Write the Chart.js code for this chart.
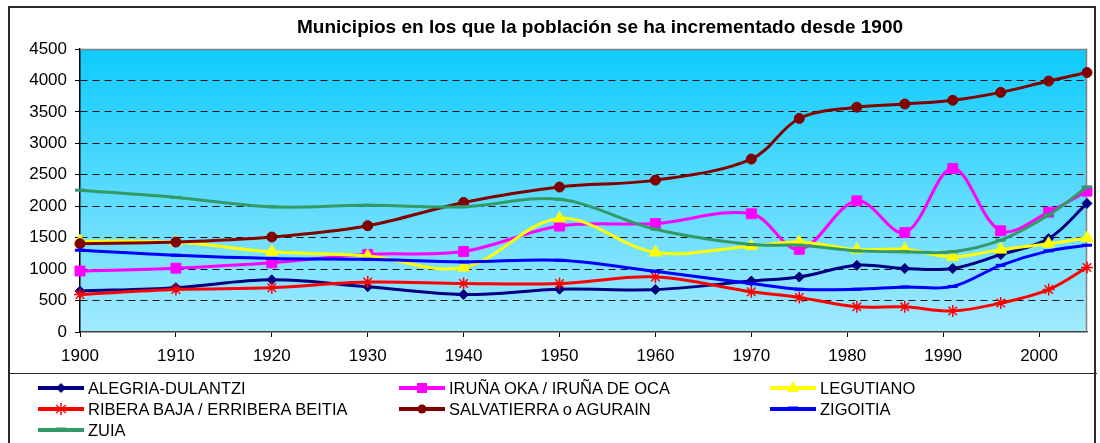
<!DOCTYPE html>
<html lang="es">
<head>
  <meta charset="UTF-8" />
  <title>Municipios</title>
  <script src="https://cdn.jsdelivr.net/npm/chart.js"></script>
  <style>
    body { margin: 0; background: #fff; font-family: "Liberation Sans", Arial, sans-serif; }
    #wrap { position: relative; width: 1100px; height: 443px; overflow: hidden; }
    #frame { position: absolute; left: 8px; top: 6px; width: 1088px; height: 460px; border: 2px solid #2a2a2a; box-sizing: border-box; pointer-events: none; }
    #sep { position: absolute; left: 8px; top: 373px; width: 1089px; height: 0; border-top: 1.5px solid #2a2a2a; }
    #title { position: absolute; left: 0; width: 1200px; top: 16px; text-align: center; font-weight: bold; font-size: 19px; color: #000; white-space: nowrap; }
    #chart { position: absolute; left: 0; top: 0; }
    .item { position: absolute; height: 20px; display: flex; align-items: center; font-size: 16.5px; color: #000; white-space: nowrap; }
    .item svg { margin-right: 4px; }
  </style>
</head>
<body>
  <div id="wrap">
    <canvas id="chart" width="1100" height="372"></canvas>
    <div id="title">Municipios en los que la población se ha incrementado desde 1900</div>
    <div id="frame"></div>
    <div id="sep"></div>
    <div id="legend"></div>
  </div>

  <script>
    const years = [1900, 1910, 1920, 1930, 1940, 1950, 1960, 1970, 1975, 1981, 1986, 1991, 1996, 2001, 2005];
    const yearTicks = [1900, 1910, 1920, 1930, 1940, 1950, 1960, 1970, 1980, 1990, 2000];

    const alegria     = [650, 705, 830, 720, 595, 680, 675, 810, 875, 1060, 1010, 1010, 1230, 1485, 2045];
    const iruna       = [970, 1015, 1100, 1235, 1280, 1685, 1725, 1880, 1315, 2085, 1580, 2600, 1610, 1905, 2240];
    const legutiano   = [1445, 1430, 1275, 1210, 1025, 1805, 1265, 1365, 1430, 1310, 1315, 1195, 1310, 1405, 1495];
    const ribera      = [595, 675, 705, 795, 770, 770, 875, 640, 550, 400, 400, 335, 460, 675, 1025];
    const salvatierra = [1405, 1430, 1510, 1690, 2060, 2305, 2415, 2750, 3395, 3575, 3625, 3685, 3810, 3990, 4125];
    const zigoitia    = [1300, 1220, 1170, 1155, 1115, 1140, 965, 770, 680, 680, 715, 725, 1060, 1290, 1380];
    const zuia        = [2255, 2140, 1990, 2015, 1990, 2110, 1635, 1390, 1380, 1290, 1275, 1275, 1460, 1860, 2305];

    const series = [
      { label: 'ALEGRIA-DULANTZI', data: alegria, color: '#000080', style: 'rectRot', r: 5 },
      { label: 'IRUÑA OKA / IRUÑA DE OCA', data: iruna, color: '#FF00FF', style: 'rect', r: 7 },
      { label: 'LEGUTIANO', data: legutiano, color: '#FFFF00', style: 'triangle', r: 7 },
      { label: 'RIBERA BAJA / ERRIBERA BEITIA', data: ribera, color: '#FF0000', style: 'star', r: 6 },
      { label: 'SALVATIERRA o AGURAIN', data: salvatierra, color: '#800000', style: 'circle', r: 5 },
      { label: 'ZIGOITIA', data: zigoitia, color: '#0000FF', style: 'line', r: 5 },
      { label: 'ZUIA', data: zuia, color: '#339966', style: 'line', r: 5 }
    ];

    const FONT = "'Liberation Sans', Arial, sans-serif";

    // gradient fill behind the plot, plus the grey top/right edges
    const plotBackground = {
      id: 'plotBackground',
      beforeDraw(chart) {
        const { ctx, chartArea: a } = chart;
        const g = ctx.createLinearGradient(0, a.top, 0, a.bottom);
        g.addColorStop(0, '#0ECBFC');
        g.addColorStop(1, '#A2EAFF');
        ctx.save();
        ctx.fillStyle = g;
        ctx.fillRect(a.left, a.top, a.right - a.left, a.bottom - a.top);
        ctx.restore();
      },
      beforeDatasetsDraw(chart) {
        const { ctx, chartArea: a } = chart;
        ctx.save();
        ctx.strokeStyle = '#808080';
        ctx.lineWidth = 1.5;
        ctx.beginPath();
        ctx.moveTo(a.left, a.top + 0.5);
        ctx.lineTo(a.right - 0.5, a.top + 0.5);
        ctx.lineTo(a.right - 0.5, a.bottom);
        ctx.stroke();
        ctx.restore();
      }
    };

    new Chart(document.getElementById('chart'), {
      type: 'line',
      data: {
        datasets: series.map((s, i) => ({
          label: s.label,
          data: s.data.map((v, j) => ({ x: years[j], y: v })),
          borderColor: s.color,
          backgroundColor: s.color,
          borderWidth: 3,
          pointStyle: s.style,
          pointRadius: s.r,
          pointBorderWidth: s.style === 'star' ? 1.5 : (s.style === 'line' ? 3 : 1),
          pointBorderColor: s.color,
          pointBackgroundColor: s.color,
          tension: 0.35,
          fill: false,
          clip: false,
          order: series.length - i
        }))
      },
      options: {
        responsive: false,
        animation: false,
        layout: { padding: { left: 0, right: 13, top: 49, bottom: 0 } },
        plugins: {
          legend: { display: false },
          title: { display: false },
          tooltip: { enabled: false }
        },
        scales: {
          x: {
            type: 'linear',
            min: 1900,
            max: 2005,
            afterBuildTicks(scale) { scale.ticks = yearTicks.map(v => ({ value: v })); },
            afterFit(scale) { scale.height = 40; },
            grid: { drawOnChartArea: false, drawTicks: true, tickLength: 5, tickColor: '#000' },
            border: { display: true, color: '#404040', width: 1.5 },
            ticks: { color: '#000', padding: 9, maxRotation: 0, font: { family: FONT, size: 17 }, callback: v => String(v) }
          },
          y: {
            min: 0,
            max: 4500,
            afterFit(scale) { scale.width = 80; },
            grid: {
              color: c => (c.tick && (c.tick.value === 0 || c.tick.value === 4500)) ? 'rgba(0,0,0,0)' : '#111',
              lineWidth: 1,
              drawTicks: true,
              tickLength: 5,
              tickColor: '#000'
            },
            border: { display: true, color: '#000', width: 1.5, dash: [7, 5] },
            ticks: { stepSize: 500, color: '#000', padding: 8, font: { family: FONT, size: 17 }, callback: v => String(v) }
          }
        }
      },
      plugins: [plotBackground]
    });

    // legend below the chart: three columns of line samples with markers
    function markerSvg(s) {
      const c = s.color, cx = 23, cy = 10;
      let m = '';
      if (s.style === 'rectRot') m = `<polygon points="${cx},${cy-5} ${cx+5},${cy} ${cx},${cy+5} ${cx-5},${cy}" fill="${c}"/>`;
      else if (s.style === 'rect') m = `<rect x="${cx-5}" y="${cy-5}" width="10" height="10" fill="${c}"/>`;
      else if (s.style === 'triangle') m = `<polygon points="${cx},${cy-7} ${cx+6},${cy+4} ${cx-6},${cy+4}" fill="${c}"/>`;
      else if (s.style === 'star') m = `<g stroke="${c}" stroke-width="1.5"><line x1="${cx}" y1="${cy-6}" x2="${cx}" y2="${cy+6}"/><line x1="${cx-5}" y1="${cy-4}" x2="${cx+5}" y2="${cy+4}"/><line x1="${cx-5}" y1="${cy+4}" x2="${cx+5}" y2="${cy-4}"/></g>`;
      else if (s.style === 'circle') m = `<circle cx="${cx}" cy="${cy}" r="4.5" fill="${c}"/>`;
      else m = `<line x1="${cx-5}" y1="${cy-1}" x2="${cx+5}" y2="${cy-1}" stroke="${c}" stroke-width="3"/>`;
      return `<svg width="46" height="20" viewBox="0 0 46 20"><line x1="0" y1="${cy}" x2="46" y2="${cy}" stroke="${c}" stroke-width="4"/>${m}</svg>`;
    }

    const colX = [38, 399, 770];
    const rowY = [378, 399, 420];
    const legend = document.getElementById('legend');
    series.forEach((s, i) => {
      const d = document.createElement('div');
      d.className = 'item';
      d.style.left = colX[i % 3] + 'px';
      d.style.top = rowY[Math.floor(i / 3)] + 'px';
      d.innerHTML = markerSvg(s) + '<span>' + s.label + '</span>';
      legend.appendChild(d);
    });
  </script>
</body>
</html>
